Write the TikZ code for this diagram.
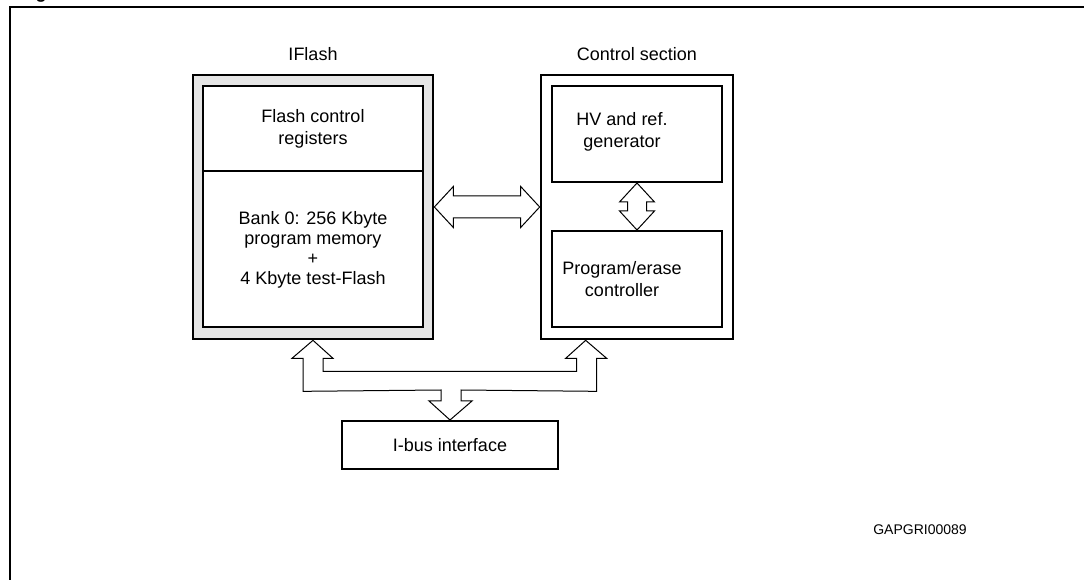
\documentclass[tikz,border=0pt]{standalone}
\usepackage{fontspec}
\setmainfont{Liberation Sans}
\usetikzlibrary{calc}

\tikzset{
  frameline/.style={line width=1.5pt},
  outerbox/.style={draw, line width=2pt, inner sep=0pt},
  innerbox/.style={draw, line width=1.5pt, fill=white, inner sep=0pt},
  fatarrow/.style={draw, line width=0.75pt, fill=white, line join=miter},
  lbl/.style={inner sep=0.75pt, align=center, font=\fontsize{13.5}{16.5}\selectfont}
}

\begin{document}
\begin{tikzpicture}[x=0.75pt,y=0.75pt,yscale=-1,xscale=1]
\useasboundingbox (0,0) rectangle (1084,580);

% frame and cut caption
\draw[frameline] (10,600) -- (10,7) -- (1100,7);
\node (capg) [anchor=base, inner sep=0pt, font=\bfseries\fontsize{13.5}{16}\selectfont] at (41,-1.5) {g};

% IFlash
\node (iflash) [outerbox, fill=gray!20, minimum width=240*0.75pt, minimum height=264*0.75pt] at (313,207) {};
\node (regs) [innerbox, minimum width=220*0.75pt, minimum height=85*0.75pt] at (313,128.5) {};
\node (bank) [innerbox, minimum width=220*0.75pt, minimum height=156*0.75pt] at (313,249) {};
\node (iflashlbl) [lbl] at (313,54) {IFlash};
\node (regstxt) [lbl] at (regs.center) {Flash control\\registers};
\node (banktxt) [lbl, font=\fontsize{13.5}{15}\selectfont] at ($(bank.center)+(0,1)$) {Bank 0: 256 Kbyte\\program memory\\+\\4 Kbyte test-Flash};

% Control section
\node (ctrl) [outerbox, fill=white, minimum width=192*0.75pt, minimum height=264*0.75pt] at (637,207) {};
\node (hv) [innerbox, minimum width=170*0.75pt, minimum height=96*0.75pt] at (637,134) {};
\node (prog) [innerbox, minimum width=170*0.75pt, minimum height=96*0.75pt] at (637,279) {};
\node (ctrllbl) [lbl] at (637,54) {Control section};
\node (hvtxt) [lbl] at ($(hv.center)+(-15,-2)$) {HV and ref.\\generator};
\node (progtxt) [lbl] at ($(prog.center)+(-15,0)$) {Program/erase\\controller};

% I-bus
\node (ibus) [innerbox, minimum width=216*0.75pt, minimum height=48*0.75pt] at (450,445) {};
\node (ibustxt) [lbl] at (ibus.center) {I-bus interface};

\node (code) [lbl, font=\fontsize{10.5}{12}\selectfont] at (920,530) {GAPGRI00089};

% IFlash <-> control section
\draw[fatarrow] (iflash.east) -- ++(19,-20.5) -- ++(0,9.5) -- ($(ctrl.west)+(-19,-11)$) -- ++(0,-9.5)
  -- (ctrl.west) -- ++(-19,20.5) -- ++(0,-9.5) -- ($(iflash.east)+(19,11)$) -- ++(0,9.5) -- cycle;

% HV <-> program/erase
\draw[fatarrow] (hv.south) -- ++(17.5,19) -- ++(-8,0) -- ($(prog.north)+(9.5,-19)$) -- ++(8,0)
  -- (prog.north) -- ++(-17.5,-19) -- ++(8,0) -- ($(hv.south)+(-9.5,19)$) -- ++(-8,0) -- cycle;

% bus
\coordinate (busl) at (iflash.south);
\coordinate (busr) at ($(ctrl.south west)+(46,0)$);
\coordinate (busd) at (ibus.north);
\draw[fatarrow] (busl) -- ($(busl)+(20,18)$) -- ($(busl)+(10,18)$) -- ($(busl)+(10,31)$)
  -- ($(busr)+(-9,31)$) -- ($(busr)+(-9,18)$) -- ($(busr)+(-20,18)$) -- (busr)
  -- ($(busr)+(21,18)$) -- ($(busr)+(11,18)$) -- ($(busr)+(11,51)$)
  -- ($(busd)+(11,-30)$) -- ($(busd)+(11,-19)$) -- ($(busd)+(22,-19)$) -- (busd)
  -- ($(busd)+(-21,-19)$) -- ($(busd)+(-9,-19)$) -- ($(busd)+(-9,-30)$)
  -- ($(busl)+(-10,51)$) -- ($(busl)+(-10,18)$) -- ($(busl)+(-21,18)$) -- cycle;

\end{tikzpicture}
\end{document}
